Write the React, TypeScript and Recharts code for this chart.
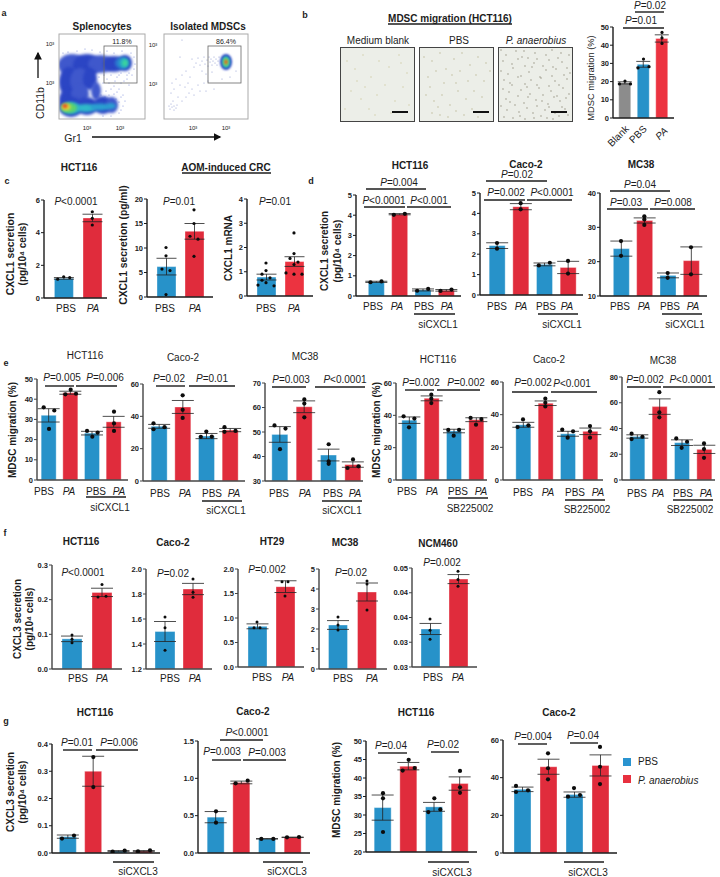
import React from "react";
import { ComposedChart, ScatterChart, Bar, Scatter, ErrorBar, Cell, XAxis, YAxis } from "recharts";

const FONT = "'Liberation Sans', Arial, sans-serif";
const BLUE = "#2792c9";
const RED = "#e02c3c";
const GREY = "#8c8c8c";
const PAIR = [BLUE, RED];
const QUAD = [BLUE, RED, BLUE, RED];

type Pt = [number, number];

// ---------- values ----------
const bMeans = [19.3, 29.5, 43.7];
const bErrs = [0.6, 1.6, 2];
const bPts: Pt[][] = [[[18.7, -1], [20.3, 0], [18.7, 1]], [[32.4, 0], [28.2, 1], [27.5, -1]], [[47, 0], [44, 0], [41, 0]]];

const c1Means = [1.2, 4.9];
const c1Errs = [0.05, 0.23];
const c1Pts: Pt[][] = [[[1.15, -1], [1.3, 0], [1.25, 1]], [[5.28, 0], [4.88, 0], [4.47, 0]]];
const c2Means = [6.2, 13.4];
const c2Errs = [1.7, 1.6];
const c2Pts: Pt[][] = [[[10.1, 0], [8.4, 0], [5.7, -1], [5.4, 1], [0.5, 0]], [[17.8, 0], [15, 0], [12.4, -1], [11.8, 1], [8.3, 0]]];
const c3Means = [0.78, 1.42];
const c3Errs = [0.12, 0.2];
const c3Pts: Pt[][] = [
  [[1.36, 0], [1.05, 0], [0.9, -1], [0.75, 1], [0.65, -1], [0.55, 0], [0.45, -2], [0.42, 2]],
  [[2.6, 0], [1.75, 0], [1.55, -1], [1.4, 1], [1.3, 0], [0.95, -2], [0.9, 0], [0.9, 2]],
];

const d1Means = [0.7, 4.05, 0.3, 0.28];
const d1Errs = [0.03, 0.03, 0.05, 0.04];
const d1Pts: Pt[][] = [[[0.68, -1], [0.72, 1]], [[4.02, -1], [4.07, 1]], [[0.26, -1], [0.35, 1]], [[0.25, -1], [0.32, 1]]];
const d2Means = [2.42, 4.33, 1.5, 1.35];
const d2Errs = [0.14, 0.15, 0.07, 0.3];
const d2Pts: Pt[][] = [[[2.55, 0], [2.27, 0]], [[4.5, 0], [4.2, 0]], [[1.45, -1], [1.58, 1]], [[1.67, 0], [1.05, 0]]];
const d3Means = [23.8, 32, 16, 20.3];
const d3Errs = [2.2, 0.75, 0.7, 4];
const d3Pts: Pt[][] = [[[26, 0], [21.7, 0]], [[33.2, 0], [32.3, 0], [30.7, 0]], [[16.7, 0], [15.3, 0]], [[24.2, 0], [16.3, 0]]];

const e1Means = [32, 43.2, 23.2, 28.8];
const e1Errs = [3.3, 0.75, 0.9, 2.7];
const e1Pts: Pt[][] = [[[36, -1], [34.4, 1], [25.3, 0]], [[44.7, 0], [42.4, -1], [42.7, 1]], [[24.3, -1], [23.5, 1], [21.4, 0]], [[33.8, 0], [28, 0], [24.3, 0]]];
const e2Means = [33.8, 45.8, 27.8, 31.5];
const e2Errs = [1.2, 4, 1.6, 1];
const e2Pts: Pt[][] = [[[35.7, -1], [32, -1], [33.3, 1]], [[53, 0], [44, 0], [39, 0]], [[30.6, 0], [27.3, -1], [27.5, 1]], [[33.3, -1], [30.4, -1], [31, 1]]];
const e3Means = [49, 60.3, 40.6, 36.7];
const e3Errs = [3.2, 2.4, 2.4, 1.1];
const e3Pts: Pt[][] = [[[52.7, -1], [51.4, 1], [43, 0]], [[63.3, 0], [61.6, 0], [56, 0]], [[45, 0], [38, 0], [37, 0]], [[38.8, 0], [35.3, -1], [36, 1]]];
const e4Means = [37, 50.5, 30.3, 37.3];
const e4Errs = [2, 1.5, 1.1, 1.2];
const e4Pts: Pt[][] = [[[39.4, -1], [38, 1], [32.6, 0]], [[52.8, 0], [50.3, 0], [47.6, 0]], [[31, -1], [31, 1], [27.4, 0]], [[38.4, -1], [37.7, 1], [34.2, 0]]];
const e5Means = [33.8, 47, 28.3, 29.8];
const e5Errs = [1.5, 1.4, 1.5, 2];
const e5Pts: Pt[][] = [[[37.1, 0], [32.4, -1], [33.5, 1]], [[49.8, 0], [47.3, 0], [45, 0]], [[30.8, -1], [29.8, 1], [25.9, 0]], [[33, 0], [29.8, 0], [25.9, 0]]];
const e6Means = [33.8, 57, 29, 23.8];
const e6Errs = [1.3, 6, 2.2, 3.2];
const e6Pts: Pt[][] = [[[36, -1], [31.8, -1], [33.6, 1]], [[68.2, 0], [52.6, 0], [48.7, 0]], [[32.3, -1], [29.7, 1], [25, 0]], [[28.4, 0], [24, 0], [17.2, 0]]];

const f1Means = [0.087, 0.221];
const f1Errs = [0.008, 0.012];
const f1Pts: Pt[][] = [[[0.098, 0], [0.086, 0], [0.076, 0]], [[0.244, 0], [0.208, -1], [0.21, 1]]];
const f2Means = [1.5, 1.84];
const f2Errs = [0.08, 0.045];
const f2Pts: Pt[][] = [[[1.617, 0], [1.53, 0], [1.35, 0]], [[1.92, 0], [1.815, 0], [1.775, 0]]];
const f3Means = [0.83, 1.64];
const f3Errs = [0.05, 0.12];
const f3Pts: Pt[][] = [[[0.92, 0], [0.8, -1], [0.8, 1]], [[1.74, -1], [1.74, 1], [1.45, 0]]];
const f4Means = [2.2, 3.85];
const f4Errs = [0.22, 0.45];
const f4Pts: Pt[][] = [[[2.6, 0], [2.2, 0], [1.95, 0]], [[4.4, 0], [4.25, 0], [2.95, 0]]];
const f5Means = [0.0346, 0.0472];
const f5Errs = [0.0014, 0.00114];
const f5Pts: Pt[][] = [[[0.0371, 0], [0.0343, 0], [0.032, 0]], [[0.0492, 0], [0.0471, 0], [0.0454, 0]]];

const g1Means = [0.06, 0.3, 0.007, 0.007];
const g1Errs = [0.006, 0.055, 0.002, 0.002];
const g1Pts: Pt[][] = [[[0.053, -1], [0.064, 1]], [[0.352, 0], [0.242, 0]], [[0.005, -1], [0.009, 1]], [[0.006, -1], [0.01, 1]]];
const g2Means = [0.48, 0.945, 0.19, 0.21];
const g2Errs = [0.075, 0.018, 0.003, 0.003];
const g2Pts: Pt[][] = [[[0.558, 0], [0.406, 0]], [[0.933, -1], [0.969, 1]], [[0.188, -1], [0.188, 1]], [[0.21, -1], [0.214, 1]]];
const g3Means = [32, 43.2, 32.2, 38.5];
const g3Errs = [3.4, 1, 1.2, 1.8];
const g3Pts: Pt[][] = [[[35.9, 0], [34.5, 0], [25.4, 0]], [[42, -1], [44.9, 0], [42.7, 1]], [[34.5, 0], [30.8, -1], [31.5, 1]], [[41.9, 0], [37.5, 0], [36, 0]]];
const g4Means = [33.8, 45.8, 31, 46.5];
const g4Errs = [1.2, 4, 1.4, 5.6];
const g4Pts: Pt[][] = [[[35.6, -1], [32.4, -1], [33.3, 1]], [[52.9, 0], [45, 0], [39.1, 0]], [[34.5, 0], [29.9, -1], [30.8, 1]], [[56.3, 0], [45.8, 0], [36.6, 0]]];

// flow cytometry density clouds: x, y, rx, ry, colour
type Blob = { x: number; y: number; rx: number; ry: number; c: string };
const DB = "#2b45c4";
const MB_ = "#3f58cc";
const flowA: Blob[] = [
  { x: 13, y: 54, rx: 14, ry: 11, c: MB_ }, { x: 28, y: 54, rx: 14, ry: 11, c: DB }, { x: 42, y: 55, rx: 13, ry: 9, c: MB_ },
  { x: 55, y: 55, rx: 11, ry: 8, c: DB }, { x: 66, y: 56, rx: 7, ry: 8, c: DB }, { x: 10, y: 37, rx: 10, ry: 15, c: DB },
  { x: 21, y: 38, rx: 10, ry: 13, c: MB_ }, { x: 31, y: 40, rx: 7, ry: 11, c: DB }, { x: 10, y: 20, rx: 10, ry: 10, c: DB },
  { x: 21, y: 25, rx: 9, ry: 9, c: MB_ }, { x: 37, y: 28, rx: 5, ry: 9, c: MB_ }, { x: 12, y: 12, rx: 12, ry: 10, c: DB },
  { x: 28, y: 13, rx: 11, ry: 9, c: DB }, { x: 44, y: 14, rx: 10, ry: 9, c: DB }, { x: 53, y: 14, rx: 6, ry: 8, c: MB_ },
  { x: 12, y: 11, rx: 10, ry: 6, c: "#29b6c9" }, { x: 27, y: 11, rx: 10, ry: 4, c: "#2fb9c9" }, { x: 41, y: 12, rx: 10, ry: 3.5, c: "#2a9fd0" },
  { x: 52, y: 13, rx: 5, ry: 3, c: "#2a9fd0" }, { x: 10, y: 11, rx: 8, ry: 5, c: "#5fd46a" }, { x: 7, y: 12, rx: 4.5, ry: 3.2, c: "#e8d83a" },
  { x: 6, y: 13, rx: 2.6, ry: 2, c: "#e5351e" }, { x: 63, y: 56, rx: 7, ry: 6, c: "#2b7fd0" }, { x: 65, y: 56, rx: 4.5, ry: 5, c: "#27b5c0" },
  { x: 66, y: 56, rx: 2.5, ry: 3.2, c: "#3fd59a" },
];
const flowB: Blob[] = [
  { x: 62, y: 57, rx: 6, ry: 8, c: DB }, { x: 62, y: 57, rx: 4.2, ry: 6, c: "#27b5c0" },
  { x: 62, y: 57, rx: 2.8, ry: 4.2, c: "#6fd66a" }, { x: 62, y: 57, rx: 1.6, ry: 2.2, c: "#e7601e" },
];
const flowDotsA: number[][] = [
  [4, 66], [9, 67], [18, 68], [26, 70], [33, 69], [41, 67], [48, 68], [55, 66], [63, 68], [72, 66], [75, 62], [76, 55], [75, 50], [73, 44], [68, 40], [62, 36],
  [56, 38], [50, 36], [47, 28], [52, 30], [58, 27], [64, 24], [66, 18], [64, 13], [62, 9], [60, 6], [52, 3], [44, 3], [46, 22], [42, 24], [70, 34], [60, 44], [70, 46],
  [44, 36], [48, 40], [52, 44], [40, 42], [36, 36], [55, 33], [60, 30], [65, 38], [68, 44], [58, 42], [62, 22], [55, 25], [50, 24], [57, 20], [60, 17], [45, 44], [62, 46],
];
const flowDotsB: number[][] = [
  [18, 79], [16, 62], [28, 60], [30, 52], [32, 56], [34, 61], [36, 54], [38, 58], [40, 62], [41, 55], [43, 59], [44, 53], [45, 62], [46, 57], [47, 60], [48, 54],
  [49, 58], [50, 62], [51, 56], [52, 60], [53, 54], [54, 58], [55, 62], [38, 48], [42, 45], [48, 47], [22, 48], [26, 42], [18, 44], [12, 40], [8, 36], [10, 30], [7, 26], [16, 34],
  [21, 32], [24, 36], [28, 30], [25, 26], [22, 22], [30, 24], [34, 34], [36, 28], [40, 36], [44, 38], [14, 22], [9, 18], [6, 10], [8, 12], [10, 13], [12, 11], [5, 13], [7, 15], [10, 9], [13, 14],
  [18, 18], [42, 28], [50, 30], [58, 40], [66, 42], [72, 48],
];

// micrograph cells
const cellsBlank: number[][] = [
  [6, 60], [14, 52], [22, 66], [30, 44], [38, 60], [48, 54], [58, 66], [66, 48], [10, 30], [20, 22], [28, 12], [36, 26], [44, 36], [54, 20], [62, 34], [68, 16], [4, 12], [16, 40], [50, 8], [34, 6], [24, 34], [60, 58],
];
const cellsPbs: number[][] = [
  [4, 64], [12, 60], [20, 68], [26, 52], [34, 62], [42, 68], [50, 56], [58, 64], [66, 58], [8, 44], [16, 50], [24, 38], [32, 46], [40, 50], [48, 40], [56, 46], [64, 40], [70, 50],
  [6, 26], [14, 20], [22, 26], [30, 16], [38, 30], [46, 22], [54, 30], [62, 24], [12, 8], [20, 6], [28, 4], [36, 10], [44, 6], [52, 12], [10, 34], [36, 38], [18, 14], [58, 4],
];
const cellsPa: number[][] = [
  [2, 71], [7, 66], [17, 70], [23, 64], [25, 70], [36, 68], [38, 62], [47, 66], [53, 71], [59, 63], [62, 68], [70, 66], [4, 60], [13, 57], [19, 62], [26, 55], [29, 63], [35, 58], [44, 55], [50, 61], [54, 54], [63, 59], [68, 53],
  [2, 50], [9, 47], [14, 53], [22, 45], [30, 49], [33, 54], [41, 44], [47, 51], [53, 45], [57, 52], [65, 46], [71, 48], [5, 41], [11, 38], [19, 44], [26, 37], [32, 41], [38, 36], [42, 43], [50, 35], [56, 40], [60, 36], [68, 42],
  [4, 32], [10, 29], [13, 36], [22, 31], [28, 34], [31, 27], [40, 33], [44, 26], [52, 30], [58, 25], [64, 33], [70, 27], [7, 22], [11, 19], [19, 25], [25, 18], [29, 24], [37, 21], [43, 20], [49, 17], [55, 24], [61, 20], [67, 23],
  [2, 15], [8, 11], [16, 16], [20, 9], [28, 13], [34, 8], [38, 15], [46, 11], [50, 14], [56, 8], [63, 14], [69, 6], [5, 4], [14, 3], [21, 5], [26, 2], [35, 3], [42, 5], [48, 3], [54, 2], [60, 5], [66, 12],
];

// ---------- layout ----------
type P = {
  means: number[]; errs: number[]; pts: Pt[][]; x0: number; x1: number; top: number; bottom: number; c0: number; c1: number;
  w: number; dom: number[]; ticks: number[]; dec?: number; jit?: number; r?: number; colors?: string[]; axis?: string; capW?: number;
};

const panels: P[] = [
  { means: bMeans, errs: bErrs, pts: bPts, x0: 613, x1: 674, top: 27, bottom: 118, c0: 625, c1: 662, w: 12, dom: [0, 50], ticks: [0, 10, 20, 30, 40, 50], jit: 5.5, r: 1.6, colors: [GREY, BLUE, "#ec3340"], capW: 7 },
  { means: c1Means, errs: c1Errs, pts: c1Pts, x0: 44, x1: 107, top: 200, bottom: 298, c0: 63.7, c1: 92.3, w: 19, dom: [0, 6], ticks: [0, 2, 4, 6], jit: 6, r: 1.6, colors: PAIR, capW: 10 },
  { means: c2Means, errs: c2Errs, pts: c2Pts, x0: 147, x1: 213, top: 199, bottom: 297, c0: 166, c1: 194, w: 19, dom: [0, 20], ticks: [0, 5, 10, 15, 20], jit: 4, r: 1.6, colors: PAIR, capW: 10 },
  { means: c3Means, errs: c3Errs, pts: c3Pts, x0: 247, x1: 313, top: 199, bottom: 296, c0: 266, c1: 294, w: 19, dom: [0, 4], ticks: [0, 1, 2, 3, 4], jit: 4, r: 1.6, colors: ["#2792c9", "#ec3340"], capW: 10 },
  { means: d1Means, errs: d1Errs, pts: d1Pts, x0: 356, x1: 461, top: 195, bottom: 296, c0: 376, c1: 446, w: 16, dom: [0, 5], ticks: [0, 1, 2, 3, 4, 5], jit: 5.5 },
  { means: d2Means, errs: d2Errs, pts: d2Pts, x0: 480, x1: 583, top: 193, bottom: 295, c0: 497, c1: 568, w: 16, dom: [0, 5], ticks: [0, 1, 2, 3, 4, 5], jit: 5.5 },
  { means: d3Means, errs: d3Errs, pts: d3Pts, x0: 600, x1: 707, top: 193, bottom: 296, c0: 621, c1: 691, w: 16, dom: [10, 40], ticks: [10, 20, 30, 40], jit: 5.5 },
  { means: e1Means, errs: e1Errs, pts: e1Pts, x0: 37, x1: 128, top: 379, bottom: 480, c0: 49, c1: 114, w: 15, dom: [0, 50], ticks: [0, 10, 20, 30, 40, 50], jit: 5.3, axis: "#444" },
  { means: e2Means, errs: e2Errs, pts: e2Pts, x0: 143, x1: 245, top: 384, bottom: 481, c0: 159, c1: 230, w: 16, dom: [0, 60], ticks: [0, 20, 40, 60], jit: 5.5, axis: "#444" },
  { means: e3Means, errs: e3Errs, pts: e3Pts, x0: 265, x1: 363, top: 383, bottom: 481, c0: 280, c1: 353, w: 16, dom: [30, 70], ticks: [30, 40, 50, 60, 70], jit: 5.5, axis: "#444" },
  { means: e4Means, errs: e4Errs, pts: e4Pts, x0: 396, x1: 487, top: 383, bottom: 480, c0: 409, c1: 476, w: 15, dom: [0, 60], ticks: [0, 20, 40, 60], jit: 5.4, axis: "#444" },
  { means: e5Means, errs: e5Errs, pts: e5Pts, x0: 503, x1: 603, top: 382, bottom: 480, c0: 523, c1: 590, w: 15, dom: [0, 60], ticks: [0, 20, 40, 60], jit: 5.4, axis: "#444" },
  { means: e6Means, errs: e6Errs, pts: e6Pts, x0: 622, x1: 715, top: 377, bottom: 480, c0: 637, c1: 704, w: 15, dom: [0, 80], ticks: [0, 20, 40, 60, 80], jit: 5.4, axis: "#444" },
  { means: f1Means, errs: f1Errs, pts: f1Pts, x0: 52, x1: 122, top: 565, bottom: 669, c0: 72, c1: 102, w: 20, dom: [0, 0.3], ticks: [0, 0.1, 0.2, 0.3], dec: 1, jit: 4, r: 1.5, colors: PAIR, axis: "#444" },
  { means: f2Means, errs: f2Errs, pts: f2Pts, x0: 146, x1: 212, top: 569, bottom: 669, c0: 165, c1: 193, w: 20, dom: [1.2, 2], ticks: [1.2, 1.4, 1.6, 1.8, 2], dec: 1, jit: 4, r: 1.5, colors: PAIR, axis: "#444" },
  { means: f3Means, errs: f3Errs, pts: f3Pts, x0: 238, x1: 304, top: 569, bottom: 667, c0: 257, c1: 285, w: 19, dom: [0, 2], ticks: [0, 0.5, 1, 1.5, 2], dec: 1, jit: 3, r: 1.5, colors: PAIR, axis: "#444" },
  { means: f4Means, errs: f4Errs, pts: f4Pts, x0: 319, x1: 387, top: 569, bottom: 669, c0: 338, c1: 367, w: 19, dom: [0, 5], ticks: [0, 1, 2, 3, 4, 5], jit: 3, r: 1.5, colors: PAIR, axis: "#444" },
  { means: f5Means, errs: f5Errs, pts: f5Pts, x0: 412, x1: 477, top: 568, bottom: 667, c0: 430, c1: 458, w: 19, dom: [0.025, 0.05], ticks: [0.025, 0.03125, 0.0375, 0.04375, 0.05], dec: 2, jit: 3, r: 1.5, colors: PAIR, axis: "#444" },
  { means: g1Means, errs: g1Errs, pts: g1Pts, x0: 52, x1: 160, top: 744, bottom: 853, c0: 68, c1: 144, w: 17, dom: [0, 0.4], ticks: [0, 0.1, 0.2, 0.3, 0.4], dec: 1, jit: 6 },
  { means: g2Means, errs: g2Errs, pts: g2Pts, x0: 198, x1: 310, top: 741, bottom: 853, c0: 216, c1: 293, w: 17, dom: [0, 1.5], ticks: [0, 0.5, 1, 1.5], dec: 1, jit: 6 },
  { means: g3Means, errs: g3Errs, pts: g3Pts, x0: 366, x1: 477, top: 741, bottom: 852, c0: 383, c1: 460, w: 17, dom: [20, 50], ticks: [20, 25, 30, 35, 40, 45, 50], jit: 6 },
  { means: g4Means, errs: g4Errs, pts: g4Pts, x0: 503, x1: 617, top: 740, bottom: 853, c0: 522, c1: 600, w: 17, dom: [0, 60], ticks: [0, 20, 40, 60], jit: 6 },
];

function BarPanel({ p }: { p: P }) {
  const n = p.means.length;
  const sp = (p.c1 - p.c0) / (n - 1);
  const rows = p.means.map((m, i) => ({ x: i, mean: m, err: p.errs[i] }));
  const dots = p.pts.flatMap((g, i) => g.map(([v, o]) => ({ x: i + (o * (p.jit ?? 5)) / sp, v })));
  const colors = p.colors ?? QUAD;
  const r = p.r ?? 2.1;
  const axis = p.axis ?? "#1a1a1a";
  const MT = 8, MB = 12, YW = 30;
  const plotW = p.x1 - p.x0;
  const plotH = p.bottom - p.top;
  const xDom = [(p.x0 - p.c0) / sp, (p.x1 - p.c0) / sp];
  const W = YW + plotW + 2;
  const H = plotH + MT + MB;
  return (
    <div style={{ position: "absolute", left: p.x0 - YW, top: p.top - MT, width: W, height: H }}>
      <div style={{ position: "absolute", left: 0, top: 0 }}>
        <ComposedChart width={W} height={H} data={rows} margin={{ top: MT, right: 2, bottom: 0, left: 0 }}>
          <XAxis
            dataKey="x"
            type="number"
            domain={xDom}
            allowDataOverflow
            ticks={rows.map((d) => d.x)}
            interval={0}
            tick={false}
            tickSize={4}
            height={MB}
            axisLine={{ stroke: axis, strokeWidth: 1.4 }}
            tickLine={{ stroke: axis, strokeWidth: 1 }}
          />
          <YAxis
            type="number"
            domain={p.dom}
            allowDataOverflow
            ticks={p.ticks}
            interval={0}
            width={YW}
            tickSize={3}
            tickMargin={1}
            tickFormatter={(v: number) => (p.dec != null ? v.toFixed(p.dec) : String(v))}
            tick={{ fontSize: 7.5, fontWeight: 700, fill: "#222", fontFamily: FONT }}
            axisLine={{ stroke: axis, strokeWidth: 1.4 }}
            tickLine={{ stroke: axis, strokeWidth: 1 }}
          />
          <Bar dataKey="mean" barSize={p.w} isAnimationActive={false} stroke="#ffffff" strokeOpacity={0.35} strokeWidth={1}>
            {rows.map((_, i) => (
              <Cell key={i} fill={colors[i]} />
            ))}
            <ErrorBar dataKey="err" width={p.capW ?? 11} stroke="#222" strokeWidth={0.8} isAnimationActive={false} />
          </Bar>
        </ComposedChart>
      </div>
      <div style={{ position: "absolute", left: 0, top: 0 }}>
        <ScatterChart width={W} height={H} margin={{ top: MT, right: 2, bottom: MB, left: YW }}>
          <XAxis dataKey="x" type="number" domain={xDom} allowDataOverflow hide />
          <YAxis dataKey="v" type="number" domain={p.dom} allowDataOverflow hide />
          <Scatter
            data={dots}
            isAnimationActive={false}
            shape={(s: any) => <circle cx={s.cx} cy={s.cy} r={r} fill="#0c0c0c" />}
          />
        </ScatterChart>
      </div>
    </div>
  );
}

function CloudPlot({ left, top, w, h, blobs, dots, dotColor, blur }: any) {
  return (
    <div style={{ position: "absolute", left, top }}>
      <ScatterChart width={w} height={h} margin={{ top: 0, right: 0, bottom: 0, left: 0 }}>
        <XAxis dataKey="x" type="number" domain={[0, w]} hide />
        <YAxis dataKey="y" type="number" domain={[0, h]} hide />
        <Scatter
          data={blobs}
          isAnimationActive={false}
          shape={(s: any) => (
            <ellipse cx={s.cx} cy={s.cy} rx={s.payload.rx} ry={s.payload.ry} fill={s.payload.c} style={{ filter: `blur(${blur}px)` }} />
          )}
        />
        <Scatter
          data={dots.map(([x, y]: number[]) => ({ x, y }))}
          isAnimationActive={false}
          shape={(s: any) => <circle cx={s.cx} cy={s.cy} r={0.6} fill={dotColor} fillOpacity={0.65} />}
        />
      </ScatterChart>
    </div>
  );
}

function Micro({ left, dots, color }: { left: number; dots: number[][]; color: string }) {
  const w = 73, h = 73;
  return (
    <div style={{ position: "absolute", left, top: 48, width: w, height: h, background: "#eceee8", outline: "1px solid #444" }}>
      <ScatterChart width={w} height={h} margin={{ top: 0, right: 0, bottom: 0, left: 0 }}>
        <XAxis dataKey="x" type="number" domain={[0, w]} hide />
        <YAxis dataKey="y" type="number" domain={[0, h]} hide />
        <Scatter
          data={dots.map(([x, y]) => ({ x, y }))}
          isAnimationActive={false}
          shape={(s: any) => <circle cx={s.cx} cy={s.cy} r={0.65} fill={color} />}
        />
      </ScatterChart>
    </div>
  );
}

// ---------- text ----------
type TOpt = { b?: boolean; i?: boolean; s?: number; a?: string; rot?: number; c?: string };
const T = ({ x, y, t, o = {} }: { x: number; y: number; t: React.ReactNode; o?: TOpt }) => (
  <text
    x={x}
    y={y}
    fontFamily={FONT}
    fontSize={o.s ?? 10}
    fontWeight={o.b ? 700 : 400}
    fontStyle={o.i ? "italic" : "normal"}
    textAnchor={(o.a as any) ?? "middle"}
    dominantBaseline="central"
    fill={o.c ?? "#1c1c1c"}
    transform={o.rot ? `rotate(${o.rot} ${x} ${y})` : undefined}
  >
    {t}
  </text>
);

const boldTitles: [number, number, string][] = [
  [102, 26, "Splenocytes"], [208, 26, "Isolated MDSCs"], [450, 18, "MDSC migration (HCT116)"], [79, 167, "HCT116"], [226, 167, "AOM-induced CRC"],
  [410, 165, "HCT116"], [526, 164, "Caco-2"], [641, 164, "MC38"], [81, 541, "HCT116"], [173, 542, "Caco-2"], [272, 541, "HT29"], [345, 542, "MC38"],
  [438, 543, "NCM460"], [95, 712, "HCT116"], [253, 711, "Caco-2"], [416, 712, "HCT116"], [559, 712, "Caco-2"],
];
const plainTitles: [number, number, string][] = [
  [85, 355, "HCT116"], [183, 357, "Caco-2"], [305, 356, "MC38"], [438, 359, "HCT116"], [549, 359, "Caco-2"], [663, 360, "MC38"],
  [378, 40, "Medium blank"], [459, 40, "PBS"],
];
const panelLetters: [number, number, string][] = [
  [4, 13, "a"], [305, 15, "b"], [7, 181, "c"], [311, 181, "d"], [6, 363, "e"], [5, 533, "f"], [6, 721, "g"],
];
const pValues: [number, number, string][] = [
  [650, 5, "=0.02"], [641, 20, "=0.01"], [76, 201, "<0.0001"], [179, 201, "=0.01"], [275, 201, "=0.01"],
  [399, 182, "=0.004"], [384, 200, "<0.0001"], [429, 200, "<0.001"], [517, 174, "=0.02"], [506, 192, "=0.002"], [552, 192, "<0.0001"],
  [640, 184, "=0.04"], [626, 202, "=0.03"], [673, 202, "=0.008"],
  [62, 377, "=0.005"], [105, 377, "=0.006"], [169, 378, "=0.02"], [212, 378, "=0.01"], [291, 379, "=0.003"], [345, 379, "<0.0001"],
  [421, 382, "=0.002"], [466, 382, "=0.002"], [533, 382, "=0.002"], [572, 383, "<0.001"], [645, 379, "=0.002"], [691, 379, "<0.0001"],
  [83, 572, "<0.0001"], [173, 573, "=0.02"], [267, 569, "=0.002"], [351, 572, "=0.02"], [442, 562, "=0.002"],
  [77, 742, "=0.01"], [119, 742, "=0.006"], [247, 732, "<0.0001"], [222, 751, "=0.003"], [267, 752, "=0.003"],
  [391, 745, "=0.04"], [443, 744, "=0.02"], [533, 736, "=0.004"], [583, 735, "=0.04"],
];
// x1, x2, y
const brackets: number[][] = [
  [635, 664, 12], [623, 664, 28], [388, 512, 24], [182, 271, 173],
  [366, 426, 189], [364, 405, 207], [407, 451, 207], [486, 547, 181], [484, 525, 200], [527, 572, 200],
  [610, 670, 191], [607, 648, 209], [650, 695, 209], [414, 455, 314], [538, 578, 314], [662, 702, 314],
  [45, 74, 386], [76, 117, 386], [156, 185, 386], [189, 235, 386], [272, 306, 387], [315, 365, 387],
  [405, 434, 390], [437, 480, 390], [512, 548, 392], [551, 597, 392], [627, 661, 387], [663, 715, 387],
  [86, 126, 497], [202, 242, 501], [322, 362, 501], [448, 488, 498], [565, 605, 500], [673, 713, 500],
  [63, 92, 750], [96, 138, 750], [220, 263, 740], [212, 241, 760], [243, 286, 760], [378, 407, 753], [431, 459, 752], [518, 547, 744], [570, 598, 743],
  [113, 154, 862], [263, 303, 862], [428, 469, 862], [564, 604, 862],
];
// x positions of the PBS / PA labels
const xLabelRows: { y: number; xs: number[] }[] = [
  { y: 308, xs: [66, 93] }, { y: 308, xs: [165, 195] }, { y: 308, xs: [266, 294] },
  { y: 306, xs: [373, 397, 424, 447] }, { y: 306, xs: [497, 521, 546, 567] }, { y: 306, xs: [620, 644, 670, 693] },
  { y: 491, xs: [44, 69, 96, 119] }, { y: 493, xs: [160, 185, 212, 234] }, { y: 493, xs: [279, 305, 333, 355] },
  { y: 491, xs: [407, 432, 458, 481] }, { y: 492, xs: [523, 548, 575, 598] }, { y: 493, xs: [637, 658, 683, 706] },
  { y: 678, xs: [78, 102] }, { y: 678, xs: [170, 195] }, { y: 677, xs: [262, 288] }, { y: 678, xs: [343, 372] }, { y: 677, xs: [433, 458] },
];
const groupLabels: [number, number, string][] = [
  [438, 324, "siCXCL1"], [562, 324, "siCXCL1"], [685, 324, "siCXCL1"], [110, 507, "siCXCL1"], [226, 510, "siCXCL1"], [342, 510, "siCXCL1"],
  [470, 508, "SB225002"], [587, 509, "SB225002"], [690, 509, "SB225002"], [138, 871, "siCXCL3"], [287, 871, "siCXCL3"], [452, 872, "siCXCL3"], [588, 872, "siCXCL3"],
];
const yLabelsBold: [number, number, string, number][] = [
  [10, 254, "CXCL1 secretion", 10.3], [22, 254, "(pg/10\u2074 cells)", 10], [123, 245, "CXCL1 secretion (pg/ml)", 10.3], [228, 248, "CXCL1 mRNA", 10],
  [324, 251, "CXCL1 secretion", 10], [337, 251, "(pg/10\u2074 cells)", 10], [12, 430, "MDSC migration (%)", 10], [376, 430, "MDSC migration (%)", 10],
  [17, 619, "CXCL3 secretion", 10], [29, 619, "(pg/10\u2074 cells)", 10], [10, 792, "CXCL3 secretion", 10], [22, 792, "(pg/10\u2074 cells)", 10], [336, 790, "MDSC migration (%)", 10],
];
const flowTicks: [number, number][] = [
  [50, 44], [50, 83], [87, 128], [120, 128], [153, 45], [153, 84], [193, 128], [226, 128],
];

function Overlay() {
  return (
    <svg width={720} height={877} style={{ position: "absolute", left: 0, top: 0, pointerEvents: "none" }}>
      <defs>
        <marker id="ah" markerWidth="7" markerHeight="7" refX="5" refY="3" orient="auto">
          <path d="M0,0 L6,3 L0,6 Z" fill="#111" />
        </marker>
      </defs>
      {panelLetters.map(([x, y, t]) => <T key={t} x={x} y={y} t={t} o={{ b: true, s: 9 }} />)}
      {boldTitles.map(([x, y, t], i) => <T key={i} x={x} y={y} t={t} o={{ b: true }} />)}
      {plainTitles.map(([x, y, t], i) => <T key={i} x={x} y={y} t={t} />)}
      <T x={536} y={40} t="P. anaerobius" o={{ i: true }} />
      {pValues.map(([x, y, t], i) => (
        <T key={i} x={x} y={y} t={<><tspan fontStyle="italic">P</tspan>{t}</>} />
      ))}
      {brackets.map(([a, b, y], i) => <line key={i} x1={a} x2={b} y1={y} y2={y} stroke="#1c1c1c" strokeWidth={1.4} />)}
      {xLabelRows.map((row, i) =>
        row.xs.map((x, j) => <T key={`${i}-${j}`} x={x} y={row.y} t={j % 2 ? "PA" : "PBS"} o={{ i: j % 2 === 1 }} />)
      )}
      {groupLabels.map(([x, y, t], i) => <T key={i} x={x} y={y} t={t} />)}
      {yLabelsBold.map(([x, y, t, s], i) => <T key={i} x={x} y={y} t={t} o={{ b: true, s, rot: -90 }} />)}

      {/* panel a */}
      <rect x={59} y={34} width={86} height={85} fill="none" stroke="#aaa" strokeWidth={1} />
      <rect x={164} y={34} width={84} height={85} fill="none" stroke="#aaa" strokeWidth={1} />
      <rect x={104} y={46} width={33} height={37} fill="none" stroke="#666" strokeWidth={0.8} />
      <rect x={208} y={46} width={33} height={37} fill="none" stroke="#666" strokeWidth={0.8} />
      <T x={122} y={41} t="11.8%" o={{ s: 7 }} />
      <T x={226} y={41} t="86.4%" o={{ s: 7 }} />
      {flowTicks.map(([x, y], i) => <T key={i} x={x} y={y} t={"10\u00b3"} o={{ s: 6 }} />)}
      <T x={40} y={103} t="CD11b" o={{ s: 10.5, rot: -90 }} />
      <T x={73} y={138} t="Gr1" o={{ s: 10.5 }} />
      <line x1={38} x2={38} y1={78} y2={53} stroke="#111" strokeWidth={1.3} markerEnd="url(#ah)" />
      <line x1={92} x2={220} y1={137} y2={137} stroke="#111" strokeWidth={1.3} markerEnd="url(#ah)" />

      {/* panel b */}
      <line x1={392} x2={408} y1={112} y2={112} stroke="#111" strokeWidth={2} />
      <line x1={473} x2={489} y1={112} y2={112} stroke="#111" strokeWidth={2} />
      <line x1={551} x2={567} y1={112} y2={112} stroke="#111" strokeWidth={2} />
      <T x={591} y={78} t="MDSC migration (%)" o={{ s: 9.3, rot: -90 }} />
      <T x={627} y={127} t="Blank" o={{ a: "end", rot: -45 }} />
      <T x={645} y={127} t="PBS" o={{ a: "end", rot: -45 }} />
      <T x={666} y={129} t="PA" o={{ a: "end", rot: -45, i: true }} />

      {/* legend */}
      <rect x={623} y={758} width={8} height={8} fill="#2a94d0" />
      <rect x={623} y={775} width={8} height={8} fill="#e8303f" />
      <T x={638} y={761} t="PBS" o={{ a: "start" }} />
      <T x={638} y={780} t="P. anaerobius" o={{ a: "start", i: true }} />
    </svg>
  );
}

export default function App() {
  return (
    <div style={{ position: "absolute", left: 0, top: 0, width: 720, height: 877, background: "#fff", overflow: "hidden" }}>
      <CloudPlot left={59} top={34} w={86} h={85} blobs={flowA} dots={flowDotsA} dotColor="#3a55c8" blur={1.6} />
      <CloudPlot left={164} top={34} w={84} h={85} blobs={flowB} dots={flowDotsB} dotColor="#5a6bb8" blur={0.8} />
      <Micro left={341} dots={cellsBlank} color="#cfc9a0" />
      <Micro left={420} dots={cellsPbs} color="#b9b490" />
      <Micro left={499} dots={cellsPa} color="#8f8a78" />
      {panels.map((p, i) => <BarPanel key={i} p={p} />)}
      <Overlay />
    </div>
  );
}
